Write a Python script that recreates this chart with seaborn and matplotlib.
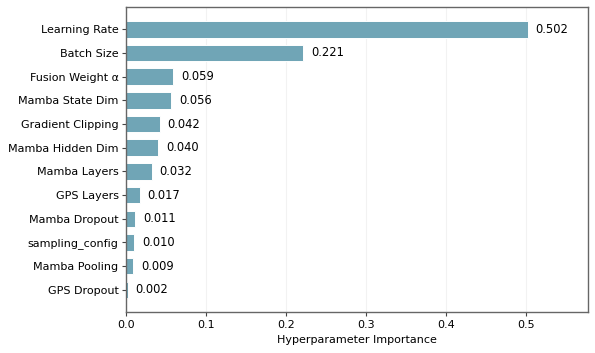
import pandas as pd
import seaborn as sns
import matplotlib
matplotlib.use('Agg')
import matplotlib.pyplot as plt

params = ["Learning Rate", "Batch Size", "Fusion Weight α", "Mamba State Dim",
          "Gradient Clipping", "Mamba Hidden Dim", "Mamba Layers", "GPS Layers",
          "Mamba Dropout", "sampling_config", "Mamba Pooling", "GPS Dropout"]
importance = [0.502, 0.221, 0.059, 0.056, 0.042, 0.040, 0.032, 0.017,
              0.011, 0.010, 0.009, 0.002]

df = pd.DataFrame({"param": params, "importance": importance})

sns.set_style("white")
plt.rcParams['font.family'] = ['DejaVu Sans']
plt.rcParams['text.color'] = 'black'
plt.rcParams['axes.labelcolor'] = 'black'
plt.rcParams['xtick.color'] = 'black'
plt.rcParams['ytick.color'] = 'black'

fig, ax = plt.subplots(figsize=(5.95, 3.53), dpi=100)
sns.barplot(x="importance", y="param", data=df, orient="h", color="#70a5b6",
            saturation=1, width=0.7, edgecolor="white", linewidth=0.7, ax=ax)

for i, v in enumerate(df.importance):
    ax.text(v + 0.01, i, f"{v:.3f}", va="center", ha="left", fontsize=8.3)

ax.set_xlim(0, max(importance) * 1.15)
n = len(params)
ax.set_ylim(n - 1 + 0.935, -0.935)
ax.set_xlabel("Hyperparameter Importance", fontsize=8, labelpad=4)
ax.set_ylabel("")
ax.tick_params(axis="both", labelsize=8, length=3, width=0.8, left=True, bottom=True,
               color="#444444", pad=2.5)
ax.grid(axis="x", alpha=0.25, linewidth=0.8)
ax.set_axisbelow(True)
for s in ax.spines.values():
    s.set_color("#666666")
    s.set_linewidth(1.0)

plt.subplots_adjust(left=0.212, right=0.988, top=0.980, bottom=0.116)
plt.savefig("out.png", dpi=100)
